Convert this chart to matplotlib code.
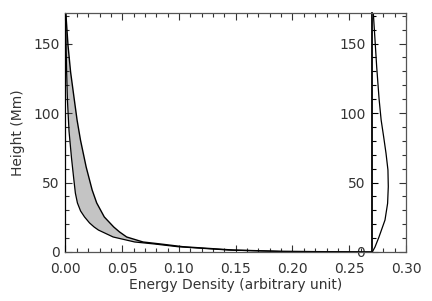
import numpy as np
import matplotlib
matplotlib.use("Agg")
import matplotlib.pyplot as plt
from matplotlib.ticker import MultipleLocator

# --- data ---
outer_height = [0, 0.4, 1.4, 3.8, 5.8, 7.2, 10.8, 14.5, 18.0, 25.2, 35.3, 44.6, 61.2,
                80.6, 95.0, 109.4, 129.5, 148.9, 172]
outer_energy = [0.270, 0.192, 0.148, 0.1035, 0.0833, 0.0683, 0.0539, 0.0475, 0.0425,
                0.0342, 0.0275, 0.0235, 0.0182, 0.0132, 0.0102, 0.0078, 0.0045,
                0.0022, 0.0003]

inner_height = [0, 0.4, 1.4, 3.8, 5.8, 7.2, 10.8, 15.8, 18.0, 20.9, 25.2, 29.5,
                35.3, 42.4, 52.5, 67.6, 87, 109.4, 129.5, 148.9, 172]
inner_energy = [0.270, 0.190, 0.144, 0.099, 0.078, 0.061, 0.042, 0.0290, 0.0252,
                0.0212, 0.0168, 0.0133, 0.0105, 0.0087, 0.0073, 0.0053, 0.0031,
                0.0017, 0.0010, 0.0005, 0.0001]

profile_base = 0.2703
profile_height = [0, 3.6, 10.8, 23, 35, 47, 59, 71, 83, 95, 110, 133, 150, 172]
profile_offset = [0, 0.0024, 0.0059, 0.0112, 0.0135, 0.0141, 0.0138, 0.0121,
                  0.0100, 0.0078, 0.0060, 0.0039, 0.0026, 0.0009]

xticks = [0.00, 0.05, 0.10, 0.15, 0.20, 0.25, 0.30]
xticklabels = ["0.00", "0.05", "0.10", "0.15", "0.20", "0.25", "0.30"]
yticks = [0, 50, 100, 150]

plt.rcParams['font.family'] = ['DejaVu Sans']
fig = plt.figure(figsize=(4.32, 3.01), dpi=100)
ax = fig.add_axes([0.1516, 0.1628, 0.7882, 0.794])

xmax, ymax = 0.30, 172
ax.set_xlim(0, xmax)
ax.set_ylim(0, ymax)

# shaded band
poly_x = np.concatenate([outer_energy, inner_energy[::-1]])
poly_y = np.concatenate([outer_height, inner_height[::-1]])
ax.fill(poly_x, poly_y, color='#c4c4c4', lw=0, zorder=1)
ax.plot(outer_energy, outer_height, color='black', lw=1.0, zorder=2)
ax.plot(inner_energy, inner_height, color='black', lw=0.9, zorder=2)

# profile on the right
ax.plot(profile_base + np.array(profile_offset), profile_height,
        color='black', lw=0.9, zorder=2)

txtcol = '#333333'
spcol = '#555555'
for s in ax.spines.values():
    s.set_color(spcol)
    s.set_linewidth(0.9)
ax.spines['left'].set_color('black')

ax.set_xticks(xticks)
ax.set_xticklabels(xticklabels)
ax.set_yticks(yticks)
ax.xaxis.set_minor_locator(MultipleLocator(0.01))
ax.yaxis.set_minor_locator(MultipleLocator(10))
ax.tick_params(which='both', direction='in', top=True, right=True,
               color='#333333', width=0.8, labelsize=10, labelcolor=txtcol)
ax.tick_params(which='major', length=5)
ax.tick_params(which='minor', length=3)
ax.tick_params(axis='x', pad=7)
ax.tick_params(axis='y', pad=4)

ax.set_xlabel('Energy Density (arbitrary unit)', fontsize=10, color=txtcol, labelpad=2)
ax.set_ylabel('Height (Mm)', fontsize=10, color=txtcol, labelpad=6)

# secondary axis drawn at the profile base, labels to its left, ticks pointing right
sec = ax.secondary_yaxis(profile_base / xmax)
sec.set_alignment('left')
sec.set_yticks(yticks)
sec.yaxis.set_minor_locator(MultipleLocator(10))
for s in sec.spines.values():
    s.set_color('black')
    s.set_linewidth(1.3)
sec.tick_params(which='both', direction='in', color='black', width=0.8,
                labelsize=10, labelcolor=txtcol, pad=5)
sec.tick_params(which='major', length=4)
sec.tick_params(which='minor', length=3)

fig.savefig('out.png', dpi=100)
